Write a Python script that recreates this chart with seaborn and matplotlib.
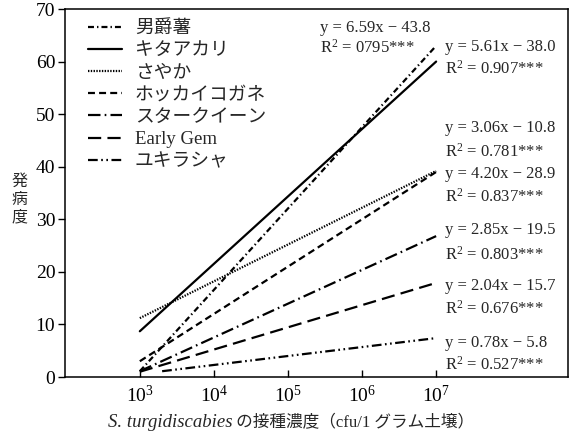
import numpy as np
import pandas as pd
import seaborn as sns
import matplotlib.pyplot as plt

# 品種ごとの回帰直線（始点・終点の接種濃度と発病度）
cultivars = ["男爵薯", "キタアカリ", "さやか", "ホッカイコガネ",
             "スタークイーン", "Early Gem", "ユキラシャ"]
x_start = [1e3, 1e3, 1e3, 1e3, 1e3, 1e3, 2e3]
x_end = [1e7, 1e7, 1e7, 1e7, 1e7, 1e7, 1e7]
y_start = [1.1, 8.7, 11.2, 3.0, 1.1, 1.0, 1.1]
y_end = [63.0, 60.0, 39.2, 39.0, 26.8, 17.9, 7.4]

equations = ["y = 6.59x − 43.8", "y = 5.61x − 38.0", "y = 3.06x − 10.8",
             "y = 4.20x − 28.9", "y = 2.85x − 19.5", "y = 2.04x − 15.7",
             "y = 0.78x − 5.8"]
r2_values = ["0795", "0.907", "0.781", "0.837", "0.803", "0.676", "0.527"]

x_ticks = [1e3, 1e4, 1e5, 1e6, 1e7]
x_tick_labels = ["$10^{3}$", "$10^{4}$", "$10^{5}$", "$10^{6}$", "$10^{7}$"]
y_ticks = [0, 10, 20, 30, 40, 50, 60, 70]

# 線種（ポイント単位）
dash_styles = {
    "男爵薯": (0, (4.3, 2.2, 1.0, 2.2)),
    "キタアカリ": "-",
    "さやか": (0, (1.0, 1.0)),
    "ホッカイコガネ": (0, (5.0, 3.0)),
    "スタークイーン": (0, (9.0, 3.0, 1.2, 3.0)),
    "Early Gem": (0, (9.5, 4.5)),
    "ユキラシャ": (0, (7.0, 2.5, 1.2, 2.5, 1.2, 2.5)),
}

# 式ラベルの位置（画像ピクセル、左端・中心）
label_pos = [(320, 28, 48), (445, 47, 69), (445, 128, 152), (445, 174, 197),
             (445, 230, 255), (445, 286, 309), (445, 343, 365)]

sns.set_theme(style="ticks")
plt.rcParams['font.family'] = ['Liberation Serif', 'Noto Sans CJK JP']
plt.rcParams['mathtext.fontset'] = 'custom'
plt.rcParams['mathtext.rm'] = 'Liberation Serif'
plt.rcParams['mathtext.it'] = 'Liberation Serif:italic'
plt.rcParams['lines.scale_dashes'] = False

W, H = 579, 434
fig = plt.figure(figsize=(W / 100, H / 100), dpi=100)
ax = fig.add_axes([65 / W, (H - 377) / H, 503 / W, 368 / H])

for i, name in enumerate(cultivars):
    df = pd.DataFrame({"x": [x_start[i], x_end[i]], "y": [y_start[i], y_end[i]]})
    sns.lineplot(data=df, x="x", y="y", ax=ax, color="black", linewidth=1.6,
                 linestyle=dash_styles[name], label=name)

ax.set_xscale("log")
ax.set_xlim(10 ** 1.99, 10 ** 8.78)
ax.set_ylim(0, 70)
ax.set_xticks(x_ticks)
ax.set_xticklabels(x_tick_labels)
ax.minorticks_off()
ax.set_yticks(y_ticks)
ax.tick_params(axis="x", direction="in", length=5, width=1, labelsize=14, pad=6, colors="black")
ax.tick_params(axis="y", direction="out", length=5, width=1, labelsize=14, pad=2, colors="black")
for s in ax.spines.values():
    s.set_visible(True)
    s.set_color("black")
    s.set_linewidth(1.1)

ax.set_xlabel("")
ax.set_ylabel("発\n病\n度", rotation=0, fontsize=11.5, linespacing=1.05,
              ha="center", va="center", family=['Noto Sans CJK JP'])
ax.yaxis.set_label_coords((20 - 65) / 503, (377 - 199) / 368)

# x軸ラベル（学名部分は斜体）
base_y = (377 - 427) / 368
t1 = ax.text((108 - 65) / 503, base_y, "S. turgidiscabies", transform=ax.transAxes,
             fontsize=13.5, style="italic", family="Liberation Serif",
             ha="left", va="baseline")
ax.annotate(" の接種濃度（cfu/1 グラム土壌）", xy=(1, base_y),
            xycoords=(t1, ax.transAxes), fontsize=12, ha="left", va="baseline",
            annotation_clip=False)

for i in range(len(cultivars)):
    px, py_eq, py_r2 = label_pos[i]
    ax.annotate(equations[i], xy=(px, H - py_eq), xycoords="figure pixels",
                fontsize=12, ha="left", va="center")
    ax.annotate("R$^{2}$ = " + r2_values[i] + "***", xy=(px, H - py_r2),
                xycoords="figure pixels", fontsize=12, ha="left", va="center")

leg = ax.legend(loc="upper left", bbox_to_anchor=((88 - 65) / 503, (377 - 20) / 368),
                frameon=False, fontsize=13.5, handlelength=1.8, handletextpad=0.7,
                labelspacing=0.27, borderpad=0, borderaxespad=0)

fig.savefig("out.png", dpi=100)
